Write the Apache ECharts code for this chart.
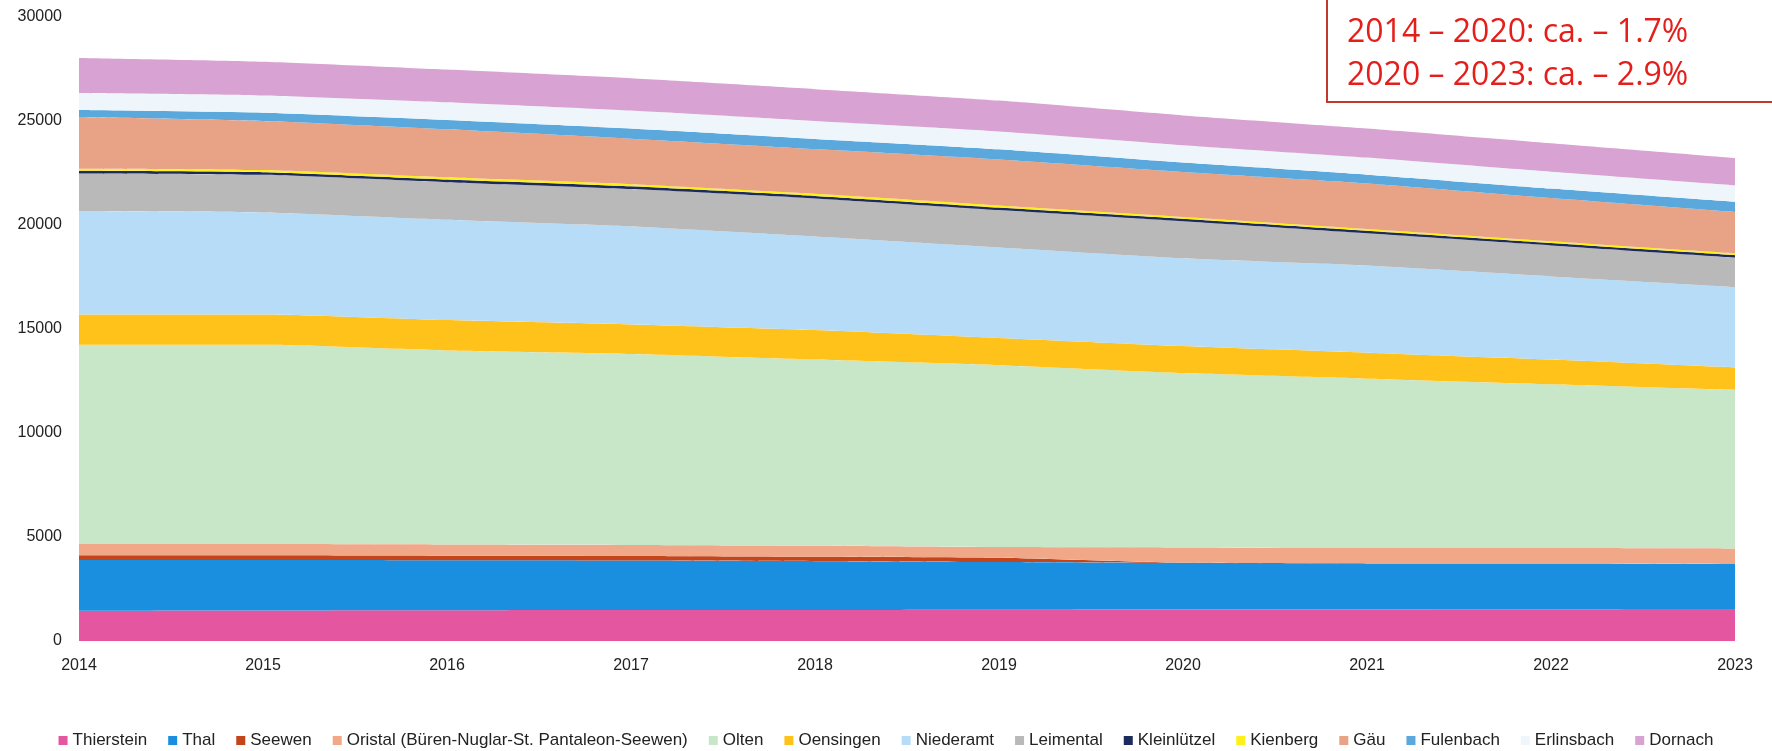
<!DOCTYPE html>
<html>
<head>
<meta charset="utf-8">
<script src="https://cdn.jsdelivr.net/npm/echarts@6/dist/echarts.min.js"></script>
<style>html,body{margin:0;padding:0;background:#fff;}#c{width:1772px;height:751px;}</style>
</head>
<body>
<div id="c"></div>
<script>
const years = ['2014','2015','2016','2017','2018','2019','2020','2021','2022','2023'];
const yTicks = [0, 5000, 10000, 15000, 20000, 25000, 30000];
const thierstein = [1460,1470,1480,1490,1490,1500,1510,1520,1530,1540];
const thal       = [2430,2420,2400,2380,2350,2300,2250,2210,2190,2160];
const seewen     = [230,230,220,220,210,200,0,0,0,0];
const oristal    = [540,540,540,530,530,520,740,740,750,750];
const olten      = [9580,9580,9330,9180,8950,8740,8380,8140,7870,7620];
const oensingen  = [1460,1460,1460,1420,1420,1310,1300,1250,1190,1080];
const niederamt  = [4970,4900,4820,4710,4500,4350,4220,4190,4000,3870];
const leimental  = [1810,1810,1810,1800,1830,1800,1780,1550,1490,1420];
const kleinluetzel = [130,130,130,130,120,120,120,120,110,110];
const kienberg   = [100,100,100,100,100,100,90,90,90,90];
const gaeu       = [2480,2360,2310,2190,2150,2210,2160,2190,2080,1990];
const fulenbach  = [340,400,450,490,490,490,450,420,450,480];
const erlinsbach = [820,830,850,860,860,860,840,820,810,800];
const dornach    = [1680,1620,1570,1550,1530,1480,1430,1400,1370,1310];
const noteLines = ['2014 – 2020: ca. – 1.7%', '2020 – 2023: ca. – 2.9%'];

const seriesDefs = [
  ['Thierstein', thierstein, '#e4569f'],
  ['Thal', thal, '#1a8fe0'],
  ['Seewen', seewen, '#c4441c'],
  ['Oristal (Büren-Nuglar-St. Pantaleon-Seewen)', oristal, '#f0a888'],
  ['Olten', olten, '#c8e6c8'],
  ['Oensingen', oensingen, '#ffc21a'],
  ['Niederamt', niederamt, '#b6dcf8'],
  ['Leimental', leimental, '#b9b9b9'],
  ['Kleinlützel', kleinluetzel, '#1c2a5c'],
  ['Kienberg', kienberg, '#fff01a'],
  ['Gäu', gaeu, '#e8a286'],
  ['Fulenbach', fulenbach, '#5aa8dc'],
  ['Erlinsbach', erlinsbach, '#eef6fb'],
  ['Dornach', dornach, '#d8a2d2']
];

const chart = echarts.init(document.getElementById('c'), null, {renderer: 'canvas'});
const font = 'Liberation Sans, Arial, sans-serif';
chart.setOption({
  animation: false,
  backgroundColor: '#ffffff',
  color: seriesDefs.map(d => d[2]),
  grid: {left: 79, right: 37, top: 17, bottom: 110, containLabel: false},
  legend: {
    top: 727, left: 'center',
    icon: 'rect', itemWidth: 9, itemHeight: 9, itemGap: 21,
    textStyle: {fontFamily: font, fontSize: 17, color: '#222'},
    data: seriesDefs.map(d => d[0])
  },
  xAxis: {
    type: 'category', boundaryGap: false, data: years,
    axisLine: {show: false}, axisTick: {show: false}, splitLine: {show: false},
    axisLabel: {color: '#222', fontFamily: font, fontSize: 16, margin: 17}
  },
  yAxis: {
    type: 'value', min: 0, max: 30000, interval: 5000,
    axisLine: {show: false}, axisTick: {show: false}, splitLine: {show: false},
    axisLabel: {color: '#222', fontFamily: font, fontSize: 16, margin: 17,
      formatter: v => yTicks.includes(v) ? String(v) : ''}
  },
  series: seriesDefs.map(d => ({
    name: d[0], type: 'line', stack: 'all', data: d[1],
    smooth: 0.2, showSymbol: false, symbol: 'none',
    lineStyle: {width: 0}, itemStyle: {color: d[2]},
    areaStyle: {color: d[2], opacity: 1}
  })),
  graphic: [
    {type: 'rect', shape: {x: 1327, y: -10, width: 470, height: 112},
     style: {fill: '#ffffff', stroke: '#c0392b', lineWidth: 2}, z: 100},
    {type: 'text', x: 1347, y: 33, z: 101,
     style: {text: noteLines[0], fill: '#e41e1a', font: '32px "Open Sans", sans-serif', textVerticalAlign: 'middle', verticalAlign: 'middle'}},
    {type: 'text', x: 1347, y: 76, z: 101,
     style: {text: noteLines[1], fill: '#e41e1a', font: '32px "Open Sans", sans-serif', textVerticalAlign: 'middle', verticalAlign: 'middle'}}
  ]
});
</script>
</body>
</html>
